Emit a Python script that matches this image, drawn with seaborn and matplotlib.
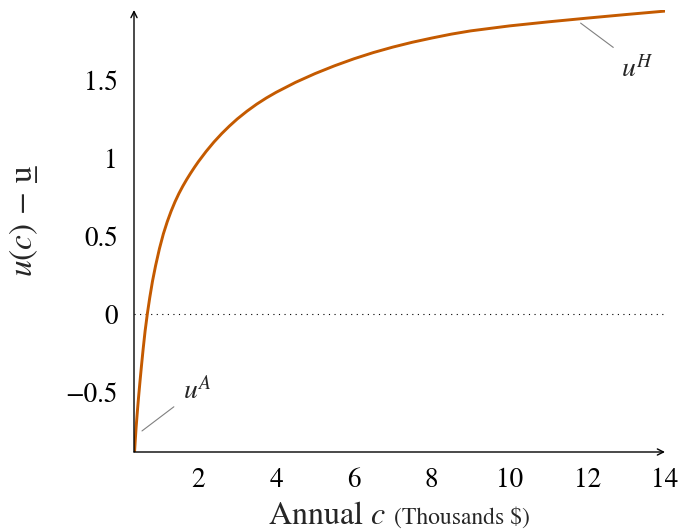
import matplotlib
matplotlib.use("Agg")
import matplotlib.pyplot as plt
import seaborn as sns
import pandas as pd

# ---- data ----
consumption = [0.36, 0.38, 0.40, 0.43, 0.46, 0.50, 0.54, 0.58, 0.63, 0.69, 0.75, 0.82,
               0.90, 1.00, 1.10, 1.20, 1.30, 1.40, 1.50, 1.60, 1.70, 1.80, 1.90, 2.00,
               2.20, 2.40, 2.60, 2.80, 3.00, 3.25, 3.50, 3.75, 4.00, 4.50, 5.00, 5.50,
               6.00, 6.50, 7.00, 7.50, 8.00, 8.50, 9.00, 10.0, 11.0, 12.0, 13.0, 14.0]
utility = [-0.88, -0.80, -0.725, -0.63, -0.54, -0.43, -0.325, -0.225, -0.11, 0.005, 0.105, 0.21,
           0.31, 0.42, 0.514, 0.592, 0.660, 0.720, 0.773, 0.820, 0.863, 0.903, 0.941, 0.977,
           1.043, 1.103, 1.157, 1.206, 1.251, 1.301, 1.346, 1.386, 1.422, 1.486, 1.542, 1.592,
           1.637, 1.677, 1.712, 1.743, 1.770, 1.795, 1.816, 1.848, 1.874, 1.898, 1.921, 1.943]
x_ticks = [2, 4, 6, 8, 10, 12, 14]
x_tick_labels = ["2", "4", "6", "8", "10", "12", "14"]
y_ticks = [-0.5, 0, 0.5, 1, 1.5]
y_tick_labels = ["\u22120.5", "0", "0.5", "1", "1.5"]

df = pd.DataFrame({"c": consumption, "u": utility})

sns.set_style("white")
plt.rcParams["font.family"] = ["STIXGeneral", "DejaVu Serif"]
plt.rcParams["mathtext.fontset"] = "stix"

fig = plt.figure(figsize=(6.84, 5.31), dpi=100)
ax = fig.add_axes([134 / 684, 1 - 452 / 531, (665 - 134) / 684, (452 - 10) / 531])

XMIN, XMAX = 0.345, 14.0
YMIN, YMAX = -0.885, 1.95

# zero reference line
ax.plot([XMIN, XMAX], [0, 0], color="black", lw=0.8, linestyle=(0, (1, 4)), zorder=1)

sns.lineplot(data=df, x="c", y="u", ax=ax, color="#C45A00", lw=2.1, zorder=3)

ax.set_xlim(XMIN, XMAX)
ax.set_ylim(YMIN, YMAX)
ax.set_xticks(x_ticks)
ax.set_xticklabels(x_tick_labels)
ax.set_yticks(y_ticks)
ax.set_yticklabels(y_tick_labels)
ax.tick_params(axis="both", direction="inout", length=11, width=0.7, color="#808080",
               labelsize=19.5, pad=6, labelcolor="black")
ax.set_xlabel("")
ax.set_ylabel("")

for s in ax.spines.values():
    s.set_visible(False)

# axis arrows
ax.annotate("", xy=(1.0, 0.0), xytext=(0.0, 0.0), xycoords="axes fraction",
            arrowprops=dict(arrowstyle="->", lw=1.0, color="black", mutation_scale=11,
                            shrinkA=0, shrinkB=0), zorder=4)
ax.annotate("", xy=(0.0, 1.0), xytext=(0.0, 0.0), xycoords="axes fraction",
            arrowprops=dict(arrowstyle="->", lw=1.0, color="black", mutation_scale=11,
                            shrinkA=0, shrinkB=0), zorder=4)

# curve labels with leader lines
ax.plot([0.55, 1.37], [-0.75, -0.595], color="#808080", lw=0.8)
ax.text(1.97, -0.49, r"$u^A$", fontsize=20, ha="center", va="center")
ax.plot([11.83, 12.67], [1.866, 1.71], color="#808080", lw=0.8)
ax.text(13.30, 1.57, r"$u^H$", fontsize=20, ha="center", va="center")

# axis labels
fig.text(386 / 684, 1 - 524 / 531, r"Annual $c$", fontsize=23, ha="right", va="baseline")
fig.text(394 / 684, 1 - 524 / 531, r"(Thousands \$)", fontsize=17, ha="left", va="baseline")
fig.text(24 / 684, 1 - 220 / 531, "$u(c)\\,-\\,$u\u0332", fontsize=24, rotation=90,
         ha="center", va="center")

fig.savefig("out.png", dpi=100)
